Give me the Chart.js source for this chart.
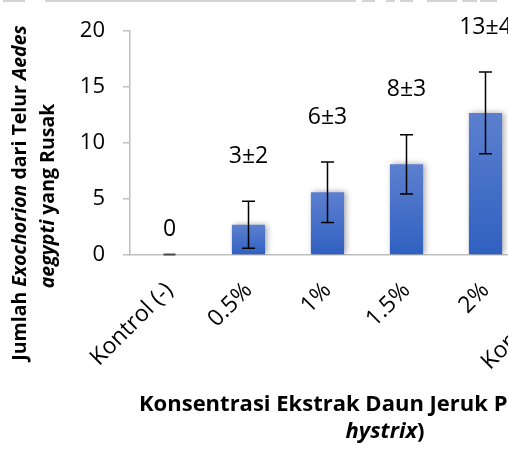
<!DOCTYPE html>
<html>
<head>
<meta charset="utf-8">
<script src="https://cdn.jsdelivr.net/npm/chart.js@4/dist/chart.umd.min.js"></script>
<style>
  html, body { margin: 0; padding: 0; background: #fff; width: 508px; height: 449px; overflow: hidden; }
  #wrap { position: absolute; left: 0; top: 0; width: 624px; height: 449px; }
  .rule { position: absolute; top: 0; height: 2px; background: #d4d4d4; }
</style>
</head>
<body>
<div id="wrap"><canvas id="c" width="624" height="449"></canvas></div>
<div class="rule" style="left:3px;width:22px"></div>
<div class="rule" style="left:45px;width:311px"></div>
<div class="rule" style="left:362px;width:13px"></div>
<div class="rule" style="left:386px;width:9px"></div>
<div class="rule" style="left:400px;width:13px"></div>
<div class="rule" style="left:427px;width:30px"></div>
<div class="rule" style="left:462px;width:15px"></div>
<div class="rule" style="left:480px;width:17px"></div>
<script>
// Concentration groups, mean damaged exochorion counts and standard deviations
const categories = ['Kontrol (-)', '0.5%', '1%', '1.5%', '2%', 'Kontrol (+)'];
const meanValues = [0, 2.7, 5.6, 8.1, 12.7, null];
const sdValues   = [0, 2.1, 2.7, 2.65, 3.65, null];
const yTicks     = [0, 5, 10, 15, 20];

const FONT = '"Open Sans", "Noto Sans", sans-serif';

// per-bar vertical gradient, lighter at the top
function barFill(context) {
  const chart = context.chart;
  const y = chart.scales.y;
  if (!y || context.parsed == null || context.parsed.y == null) return '#4470c8';
  const top = y.getPixelForValue(context.parsed.y);
  const base = y.getPixelForValue(0);
  if (!isFinite(top) || Math.abs(base - top) < 1) return '#4470c8';
  const g = chart.ctx.createLinearGradient(0, top, 0, base);
  g.addColorStop(0, '#5c80cf');
  g.addColorStop(1, '#2f60c0');
  return g;
}

function fmtLabel(m, s) {
  if (!s) return String(Math.round(m));
  return Math.round(m) + '\u00B1' + Math.round(s);
}

function richFonts(parts, size) {
  return parts.map(p => (p.italic ? 'italic ' : '') + 'bold ' + size + 'px ' + FONT);
}
function richWidth(ctx, parts, size) {
  const fonts = richFonts(parts, size);
  let total = 0;
  parts.forEach((p, i) => { ctx.font = fonts[i]; total += ctx.measureText(p.text).width; });
  return total;
}
// draws a run of bold text pieces, some italic, centred on cx
function drawRich(ctx, parts, cx, baseY, size) {
  const fonts = richFonts(parts, size);
  let x = cx - richWidth(ctx, parts, size) / 2;
  ctx.textAlign = 'left';
  ctx.textBaseline = 'alphabetic';
  parts.forEach((p, i) => { ctx.font = fonts[i]; ctx.fillText(p.text, x, baseY); x += ctx.measureText(p.text).width; });
}

const barShadow = {
  id: 'barShadow',
  beforeDatasetsDraw(chart) {
    const ctx = chart.ctx;
    ctx.save();
    ctx.shadowColor = 'rgba(0,0,0,0.35)';
    ctx.shadowBlur = 6;
    ctx.shadowOffsetX = 2;
    ctx.shadowOffsetY = 0;
  },
  afterDatasetsDraw(chart) {
    chart.ctx.restore();
  }
};

const errorAndLabels = {
  id: 'errorAndLabels',
  afterDatasetsDraw(chart) {
    const ctx = chart.ctx;
    const y = chart.scales.y;
    const meta = chart.getDatasetMeta(0);
    ctx.save();
    meanValues.forEach((m, i) => {
      if (m == null) return;
      const bar = meta.data[i];
      const s = sdValues[i] || 0;
      const base = y.getPixelForValue(0);
      if (m === 0) {
        ctx.strokeStyle = '#4a4a4a';
        ctx.lineWidth = 2;
        ctx.beginPath();
        ctx.moveTo(bar.x - 6, base - 0.5);
        ctx.lineTo(bar.x + 6, base - 0.5);
        ctx.stroke();
      }
      let topPx = y.getPixelForValue(m);
      if (s > 0) {
        const hi = y.getPixelForValue(m + s);
        const lo = y.getPixelForValue(m - s);
        ctx.strokeStyle = '#000';
        ctx.lineWidth = 1.5;
        ctx.beginPath();
        ctx.moveTo(bar.x, hi); ctx.lineTo(bar.x, lo);
        ctx.moveTo(bar.x - 6.5, hi); ctx.lineTo(bar.x + 6.5, hi);
        ctx.moveTo(bar.x - 6.5, lo); ctx.lineTo(bar.x + 6.5, lo);
        ctx.stroke();
        topPx = hi;
      }
      ctx.fillStyle = '#000';
      ctx.font = '23px ' + FONT;
      ctx.textAlign = 'center';
      ctx.textBaseline = 'middle';
      ctx.fillText(fmtLabel(m, s), bar.x, topPx - (s > 0 ? 45 : 26));
    });
    ctx.restore();
  }
};

const axisTitles = {
  id: 'axisTitles',
  afterDraw(chart) {
    const ctx = chart.ctx;
    ctx.save();
    ctx.fillStyle = '#000';
    // vertical title, two lines
    ctx.save();
    ctx.translate(0, 193);
    ctx.rotate(-Math.PI / 2);
    drawRich(ctx, [
      { text: 'Jumlah ' }, { text: 'Exochorion', italic: true },
      { text: ' dari Telur ' }, { text: 'Aedes', italic: true }
    ], 0, 26, 19.5);
    drawRich(ctx, [
      { text: 'aegypti', italic: true }, { text: ' yang Rusak' }
    ], -3, 54, 19.5);
    ctx.restore();
    // horizontal title, two lines sharing one centre
    const line1 = [{ text: 'Konsentrasi Ekstrak Daun Jeruk Purut (' }, { text: 'Citrus', italic: true }];
    const line2 = [{ text: 'hystrix', italic: true }, { text: ')' }];
    const cx = 139 + richWidth(ctx, line1, 22) / 2;
    drawRich(ctx, line1, cx, 411, 22);
    drawRich(ctx, line2, cx, 438, 22);
    ctx.restore();
  }
};

new Chart(document.getElementById('c'), {
  type: 'bar',
  data: {
    labels: categories,
    datasets: [{
      data: meanValues,
      backgroundColor: barFill,
      borderWidth: 0,
      categoryPercentage: 1,
      barPercentage: 0.42
    }]
  },
  options: {
    responsive: false,
    animation: false,
    devicePixelRatio: 1,
    layout: { padding: { top: 31, right: 20, left: 0, bottom: 0 } },
    plugins: { legend: { display: false }, tooltip: { enabled: false } },
    scales: {
      x: {
        grid: { display: false },
        border: { display: true, color: '#bfbfbf', width: 1.5 },
        ticks: { maxRotation: 45, minRotation: 45, color: '#000', font: { family: FONT, size: 23 }, padding: 14 },
        afterFit(s) { s.height = 194; }
      },
      y: {
        min: 0, max: 20,
        afterBuildTicks(s) { s.ticks = yTicks.map(v => ({ value: v })); },
        grid: { drawOnChartArea: false, drawTicks: true, tickLength: 7, color: '#bfbfbf', lineWidth: 1.5 },
        border: { display: true, color: '#bfbfbf', width: 1.5 },
        ticks: { color: '#000', font: { family: FONT, size: 22 }, padding: 18 },
        afterFit(s) { s.width = 130; }
      }
    }
  },
  plugins: [barShadow, errorAndLabels, axisTitles]
});
</script>
</body>
</html>
